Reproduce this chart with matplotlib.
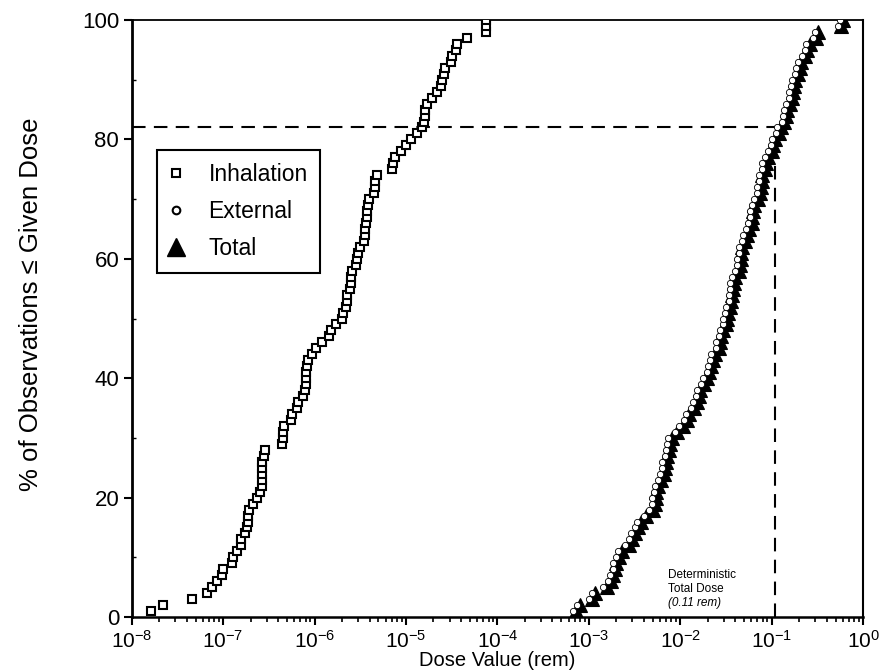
import numpy as np
import matplotlib
matplotlib.use("Agg")
import matplotlib.pyplot as plt
from matplotlib.ticker import FixedLocator, LogLocator, NullFormatter, FuncFormatter
from matplotlib.lines import Line2D

plt.rcParams['font.family'] = ['Liberation Sans', 'DejaVu Sans']
plt.rcParams['mathtext.default'] = 'regular'

# Sampled doses (log10 of rem), sorted, one value per Monte Carlo observation
inhalation_log10 = [
    -7.79, -7.66, -7.34, -7.18, -7.12, -7.07, -7.01, -7.00, -6.90, -6.89,
    -6.85, -6.81, -6.80, -6.76, -6.74, -6.73, -6.73, -6.72, -6.67, -6.63,
    -6.60, -6.58, -6.57, -6.57, -6.57, -6.57, -6.55, -6.54, -6.36, -6.35,
    -6.35, -6.33, -6.26, -6.25, -6.19, -6.18, -6.13, -6.10, -6.09, -6.09,
    -6.09, -6.08, -6.07, -6.03, -5.98, -5.92, -5.84, -5.82, -5.76, -5.70,
    -5.69, -5.66, -5.65, -5.64, -5.61, -5.60, -5.60, -5.59, -5.55, -5.54,
    -5.53, -5.50, -5.46, -5.45, -5.45, -5.44, -5.43, -5.43, -5.42, -5.40,
    -5.35, -5.34, -5.34, -5.32, -5.15, -5.14, -5.12, -5.05, -5.00, -4.94,
    -4.88, -4.83, -4.80, -4.79, -4.79, -4.77, -4.72, -4.66, -4.62, -4.61,
    -4.58, -4.57, -4.51, -4.50, -4.45, -4.44, -4.33, -4.13, -4.12, -4.12,
]

external_log10 = [
    -3.17, -3.13, -3.00, -2.96, -2.84, -2.79, -2.77, -2.74, -2.74, -2.70,
    -2.68, -2.60, -2.56, -2.54, -2.49, -2.47, -2.40, -2.34, -2.31, -2.31,
    -2.29, -2.28, -2.24, -2.22, -2.20, -2.20, -2.17, -2.16, -2.14, -2.13,
    -2.06, -2.01, -1.96, -1.94, -1.88, -1.86, -1.83, -1.82, -1.77, -1.75,
    -1.71, -1.70, -1.67, -1.66, -1.61, -1.61, -1.58, -1.57, -1.53, -1.53,
    -1.51, -1.50, -1.47, -1.47, -1.45, -1.45, -1.43, -1.40, -1.38, -1.38,
    -1.36, -1.36, -1.32, -1.31, -1.28, -1.26, -1.24, -1.24, -1.22, -1.19,
    -1.16, -1.16, -1.14, -1.14, -1.10, -1.10, -1.07, -1.04, -1.01, -1.00,
    -0.95, -0.94, -0.89, -0.88, -0.86, -0.84, -0.81, -0.81, -0.79, -0.78,
    -0.74, -0.73, -0.71, -0.67, -0.64, -0.62, -0.55, -0.53, -0.27, -0.25,
]

total_log10 = [
    -3.14, -3.10, -2.96, -2.93, -2.80, -2.76, -2.73, -2.71, -2.70, -2.67,
    -2.64, -2.56, -2.53, -2.50, -2.46, -2.43, -2.37, -2.30, -2.28, -2.27,
    -2.26, -2.24, -2.21, -2.18, -2.17, -2.16, -2.14, -2.12, -2.11, -2.09,
    -2.03, -1.97, -1.93, -1.90, -1.85, -1.82, -1.80, -1.78, -1.74, -1.71,
    -1.68, -1.66, -1.64, -1.62, -1.58, -1.57, -1.55, -1.53, -1.50, -1.49,
    -1.48, -1.46, -1.44, -1.43, -1.42, -1.41, -1.40, -1.36, -1.35, -1.34,
    -1.33, -1.32, -1.29, -1.27, -1.25, -1.22, -1.21, -1.20, -1.19, -1.15,
    -1.13, -1.12, -1.11, -1.10, -1.07, -1.06, -1.04, -1.00, -0.98, -0.96,
    -0.92, -0.90, -0.86, -0.84, -0.83, -0.80, -0.78, -0.77, -0.76, -0.74,
    -0.71, -0.69, -0.68, -0.63, -0.61, -0.58, -0.52, -0.49, -0.24, -0.22,
]

deterministic_dose = 0.11      # rem
deterministic_pct = 82         # % of observations below the deterministic dose

x_ticks = [1e-8, 1e-7, 1e-6, 1e-5, 1e-4, 1e-3, 1e-2, 1e-1, 1e0]
y_ticks = [0, 20, 40, 60, 80, 100]


def cumulative_percent(values):
    n = len(values)
    return 100.0 * np.arange(1, n + 1) / n


fig = plt.figure(figsize=(8.87, 6.72), dpi=100)
ax = fig.add_axes([0.1485, 0.0818, 0.8245, 0.8884])

inh = 10.0 ** np.array(inhalation_log10)
ext = 10.0 ** np.array(external_log10)
tot = 10.0 ** np.array(total_log10)

# reference lines for the deterministic calculation
ax.plot([1e-8, deterministic_dose], [deterministic_pct, deterministic_pct],
        color='black', lw=1.5, dashes=(6.5, 4), zorder=1)
ax.plot([deterministic_dose, deterministic_dose], [0, deterministic_pct - 5],
        color='black', lw=1.5, dashes=(6.5, 4), zorder=1)

ax.plot(inh, cumulative_percent(inh), linestyle='none', marker='s',
        markersize=6, markerfacecolor='white', markeredgecolor='black',
        markeredgewidth=1.5, zorder=3)
ax.plot(tot, cumulative_percent(tot), linestyle='none', marker='^',
        markersize=10.5, markerfacecolor='black', markeredgecolor='black',
        markeredgewidth=0.8, zorder=3)
ax.plot(ext, cumulative_percent(ext), linestyle='none', marker='o',
        markersize=4.5, markerfacecolor='white', markeredgecolor='black',
        markeredgewidth=0.6, zorder=4)

ax.set_xscale('log')
ax.set_xlim(1e-8, 1e0)
ax.set_ylim(0, 100)

ax.xaxis.set_major_locator(FixedLocator(x_ticks))
ax.xaxis.set_minor_locator(LogLocator(base=10, subs=np.arange(2, 10), numticks=100))
ax.xaxis.set_minor_formatter(NullFormatter())
ax.xaxis.set_major_formatter(FuncFormatter(
    lambda v, p: r'$10^{%d}$' % int(round(np.log10(v)))))
ax.yaxis.set_major_locator(FixedLocator(y_ticks))
ax.yaxis.set_minor_locator(FixedLocator([10, 30, 50, 70, 90]))

ax.tick_params(axis='x', which='major', direction='out', length=6, width=1.5,
               labelsize=15, pad=3)
ax.tick_params(axis='x', which='minor', direction='out', length=3.5, width=1.2)
ax.tick_params(axis='y', which='major', direction='out', length=6, width=1.5,
               labelsize=16, pad=3)
ax.tick_params(axis='y', which='minor', direction='in', length=3, width=1.0)

for side, lw in (('left', 2.0), ('bottom', 1.8), ('top', 1.3), ('right', 1.5)):
    ax.spines[side].set_linewidth(lw)

fig.text(0.5605, 1 - 661 / 672, 'Dose Value (rem)', ha='center', va='center',
         fontsize=14.5)
fig.text(31 / 887, 1 - 304 / 672, '% of Observations \u2264 Given Dose',
         ha='center', va='center', rotation=90, fontsize=18.5)

note_x = 7.4e-3
ax.text(note_x, 7.0, 'Deterministic', fontsize=8.5, ha='left', va='center')
ax.text(note_x, 4.7, 'Total Dose', fontsize=8.5, ha='left', va='center')
ax.text(note_x, 2.3, '(0.11 rem)', fontsize=8.5, ha='left', va='center',
        style='italic')

handles = [
    Line2D([], [], linestyle='none', marker='s', markersize=5.5,
           markerfacecolor='white', markeredgecolor='black', markeredgewidth=1.5),
    Line2D([], [], linestyle='none', marker='o', markersize=5.5,
           markerfacecolor='white', markeredgecolor='black', markeredgewidth=1.5),
    Line2D([], [], linestyle='none', marker='^', markersize=13,
           markerfacecolor='black', markeredgecolor='black'),
]
leg = ax.legend(handles, ['Inhalation', 'External', 'Total'],
                loc='upper left', bbox_to_anchor=(0.0346, 0.782),
                fontsize=16.5, frameon=True, fancybox=False, framealpha=1,
                edgecolor='black', handlelength=0.55, handletextpad=1.15,
                labelspacing=0.62, borderpad=0.55, borderaxespad=0)
leg.get_frame().set_linewidth(1.5)

fig.savefig('out.png', dpi=100)
